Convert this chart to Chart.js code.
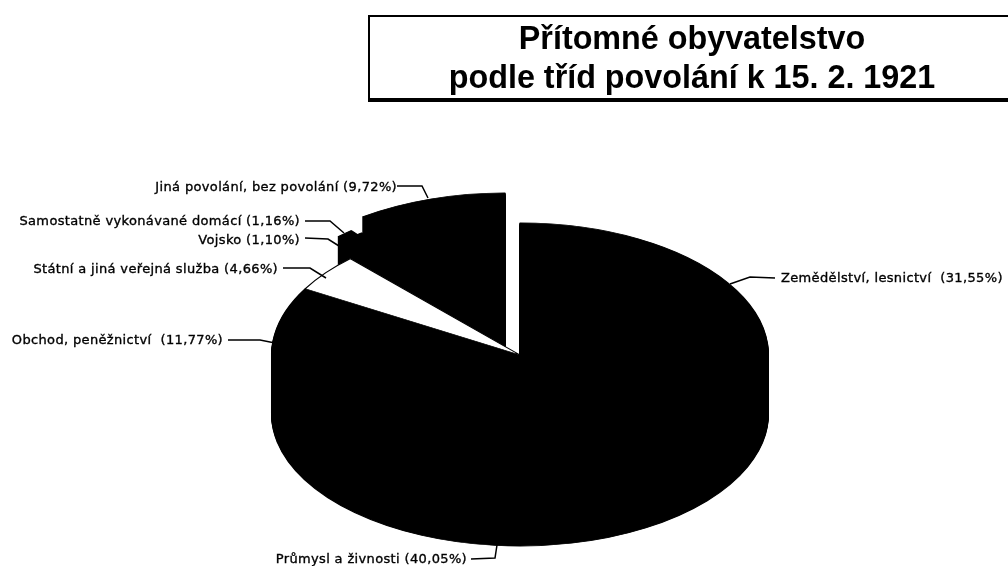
<!DOCTYPE html>
<html lang="cs">
<head>
<meta charset="utf-8">
<title>Přítomné obyvatelstvo podle tříd povolání</title>
<script src="https://cdn.jsdelivr.net/npm/chart.js@4.4.0/dist/chart.umd.js"></script>
<style>
    html, body { margin: 0; background: #fff; overflow: hidden; }
    #wrap { position: relative; width: 1008px; height: 566px; overflow: hidden; }
    #titleBox {
        position: absolute; left: 368px; top: 15px; width: 650px; height: 79px; padding-top: 2px;
        border-top: 2px solid #000; border-left: 2px solid #000; border-bottom: 4px solid #000;
        font: bold 32.3px/39px "Liberation Sans", Arial, sans-serif; color: #000;
    }
    #titleBox div { width: 644px; text-align: center; white-space: nowrap; }
    canvas { position: absolute; left: 0; top: 0; }
</style>
</head>
<body>
<div id="wrap">
    <canvas id="pieChart" width="1008" height="566"></canvas>
    <div id="titleBox"><div>Přítomné obyvatelstvo</div><div>podle tříd povolání k 15. 2. 1921</div></div>
</div>
<script>
// Třídy povolání, podíly v % (od 12 hodin po směru hodin)
const categories = [
    'Zemědělství, lesnictví ',
    'Průmysl a živnosti',
    'Obchod, peněžnictví ',
    'Státní a jiná veřejná služba',
    'Vojsko',
    'Samostatně vykonávané domácí',
    'Jiná povolání, bez povolání'
];
const shares = [31.55, 40.05, 11.77, 4.66, 1.10, 1.16, 9.72];
const sliceColors = ['#000', '#000', '#000', '#fff', '#000', '#000', '#000'];

// Vzhled 3D koláče: vysunutí výsečí, zploštění a výška boku
const explodeX = [0, 0, 0, 0, -12, -16, -15];
const explodeY = [0, 0, 0, 0, -22, -14, -30];
const centerY = 355;
const squash = 0.532;
const depth = 59;

// Popisky: kotva textu a odkazová čára
const callouts = [
    { x: 781, y: 279, align: 'left', line: [[775, 278], [750, 277], [730, 284]] },
    { x: 467, y: 560, align: 'right', line: [[471, 559], [495, 558], [497, 545]] },
    { x: 223, y: 341, align: 'right', line: [[228, 340], [260, 340], [275, 343]] },
    { x: 278, y: 270, align: 'right', line: [[283, 268], [310, 268], [326, 278]] },
    { x: 300, y: 241, align: 'right', line: [[305, 238], [328, 239], [339, 246]] },
    { x: 300, y: 222, align: 'right', line: [[305, 221], [330, 221], [344, 233]] },
    { x: 397, y: 188, align: 'right', line: [[397, 186], [422, 186], [428, 198]] }
];

const pie3d = {
    id: 'pie3d',
    // Vlastní vykreslení oblouků: elipsa a bok koláče
    beforeDatasetsDraw(chart) {
        const ctx = chart.ctx;
        const arcs = chart.getDatasetMeta(0).data;
        const cx = arcs[0].x, cy = arcs[0].y;
        const drawArc = (i, shift) => {
            ctx.save();
            ctx.translate(cx + explodeX[i], centerY + explodeY[i] + shift);
            ctx.scale(1, squash);
            ctx.translate(-cx, -cy);
            arcs[i].draw(ctx);
            ctx.restore();
        };
        // Nejdřív vysunuté výseče vzadu, přes ně hlavní část koláče
        for (let d = depth; d >= 0; d--) drawArc(6, d);
        // Vrcholy malých výsečí nesmí přesahovat do bílé mezery
        ctx.save();
        ctx.beginPath();
        ctx.rect(0, 0, cx + explodeX[6], chart.height);
        ctx.clip();
        [5, 4].forEach(i => {
            for (let d = depth; d >= 0; d--) drawArc(i, d);
        });
        ctx.restore();
        for (let d = depth; d > 0; d--) {
            [0, 1, 2].forEach(i => drawArc(i, d));
        }
        [0, 1, 2, 3].forEach(i => drawArc(i, 0));
        return false;
    },
    afterDraw(chart) {
        const ctx = chart.ctx;
        ctx.save();
        ctx.fillStyle = '#000';
        ctx.strokeStyle = '#000';
        ctx.font = '13px "DejaVu Sans", sans-serif';
        ctx.letterSpacing = '0.35px';
        ctx.textBaseline = 'middle';
        callouts.forEach((c, i) => {
            const pct = shares[i].toFixed(2).replace('.', ',');
            const text = `${categories[i]} (${pct}%)`;
            ctx.textAlign = c.align;
            ctx.lineWidth = 0.35;
            ctx.fillText(text, c.x, c.y);
            ctx.strokeText(text, c.x, c.y);
            ctx.lineWidth = 1.5;
            ctx.beginPath();
            c.line.forEach((p, j) => j ? ctx.lineTo(p[0], p[1]) : ctx.moveTo(p[0], p[1]));
            ctx.stroke();
        });
        ctx.restore();
    }
};

new Chart(document.getElementById('pieChart'), {
    type: 'pie',
    data: {
        labels: categories,
        datasets: [{
            data: shares,
            backgroundColor: sliceColors,
            borderColor: '#000',
            borderWidth: 1.5,
            hoverOffset: 0
        }]
    },
    options: {
        responsive: false,
        animation: false,
        events: [],
        layout: { padding: { left: 32, top: 34, bottom: 34 } },
        plugins: {
            legend: { display: false },
            tooltip: { enabled: false }
        }
    },
    plugins: [pie3d]
});
</script>
</body>
</html>
